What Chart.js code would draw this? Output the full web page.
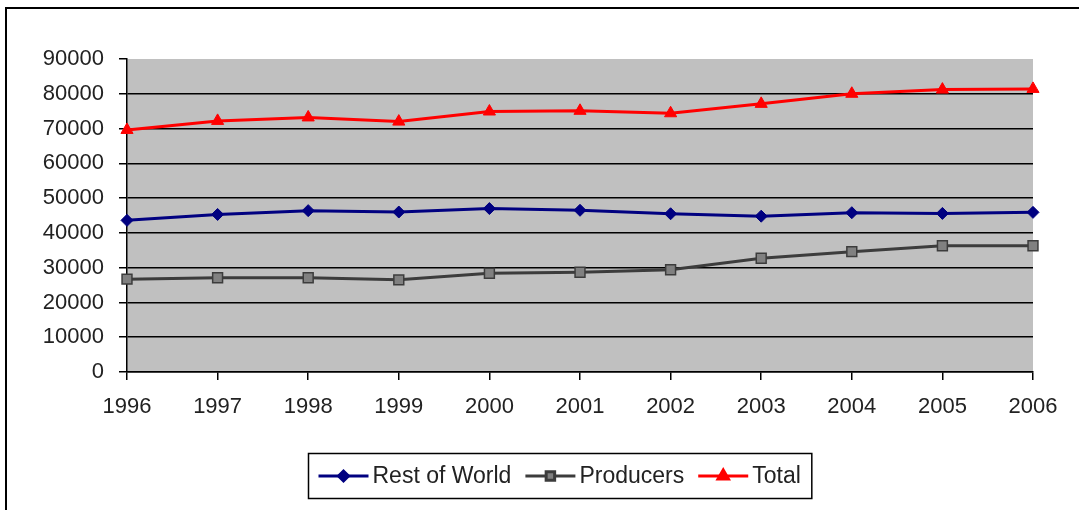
<!DOCTYPE html>
<html>
<head>
<meta charset="utf-8">
<script src="https://cdn.jsdelivr.net/npm/chart.js@4.4.1/dist/chart.umd.min.js"></script>
<style>
html, body { margin: 0; padding: 0; background: #fff; }
#marco { position: absolute; left: 5px; top: 7px; width: 1100px; height: 520px; border-top: 2px solid #000; border-left: 2px solid #000; }
#grafico { position: absolute; left: 0; top: 0; }
</style>
</head>
<body>
<div id="marco"></div>
<canvas id="grafico" width="1079" height="510"></canvas>
<script>
// datos
var anios = ["1996","1997","1998","1999","2000","2001","2002","2003","2004","2005","2006"];
var restoMundo = [43600, 45300, 46400, 46000, 47000, 46500, 45500, 44800, 45800, 45600, 45900];
var productores = [26700, 27100, 27100, 26500, 28400, 28700, 29400, 32700, 34600, 36300, 36300];
var total = [69600, 72200, 73200, 72000, 74900, 75100, 74400, 77100, 80000, 81200, 81400];
var nombres = ["Rest of World", "Producers", "Total"];
var ejeY = {min: 0, max: 90000, paso: 10000};

var FUENTE = '"Liberation Sans", Arial, sans-serif';
var COLOR_TEXTO = "#222";

// fondo gris del area de trazado
var fondo = {
    id: "fondo",
    beforeDraw: function(chart) {
        var a = chart.chartArea;
        var ctx = chart.ctx;
        ctx.save();
        ctx.fillStyle = "#c0c0c0";
        ctx.fillRect(a.left, a.top, a.right - a.left, a.bottom - a.top);
        ctx.restore();
    }
};

// leyenda con recuadro, estilo excel
var leyenda = {
    id: "leyenda",
    afterDraw: function(chart) {
        var ctx = chart.ctx;
        var sets = chart.data.datasets;
        ctx.save();
        ctx.font = "23px " + FUENTE;
        var largo = 50, sep = 4, entre = 14, padIzq = 10, padDer = 11;
        var anchos = [];
        var ancho = padIzq + padDer;
        for (var i = 0; i < sets.length; i++) {
            var w = ctx.measureText(sets[i].label).width;
            anchos.push(w);
            ancho += largo + sep + w + (i > 0 ? entre : 0);
        }
        var alto = 45;
        var x0 = Math.round(560 - ancho / 2) + 0.5;
        var y0 = 453.5;
        ctx.fillStyle = "#fff";
        ctx.fillRect(x0, y0, ancho, alto);
        ctx.strokeStyle = "#000";
        ctx.lineWidth = 1.5;
        ctx.strokeRect(x0, y0, ancho, alto);
        var yc = y0 + alto / 2;
        var x = x0 + padIzq;
        for (var i = 0; i < sets.length; i++) {
            var d = sets[i];
            ctx.strokeStyle = d.borderColor;
            ctx.lineWidth = 3;
            ctx.beginPath();
            ctx.moveTo(x, yc);
            ctx.lineTo(x + largo, yc);
            ctx.stroke();
            ctx.fillStyle = d.pointBackgroundColor;
            ctx.strokeStyle = d.pointBorderColor;
            Chart.helpers.drawPoint(ctx, {
                pointStyle: d.pointStyle,
                radius: d.pointRadius - 1,
                borderWidth: d.pointBorderWidth,
                rotation: 0
            }, x + largo / 2, yc);
            ctx.fillStyle = COLOR_TEXTO;
            ctx.textBaseline = "middle";
            ctx.textAlign = "left";
            ctx.fillText(d.label, x + largo + sep, yc + 1);
            x += largo + sep + anchos[i] + entre;
        }
        ctx.restore();
    }
};

var ctx = document.getElementById("grafico");
new Chart(ctx, {
    type: "line",
    data: {
        labels: anios,
        datasets: [{
            label: nombres[0],
            data: restoMundo,
            borderColor: "#000080",
            borderWidth: 3,
            pointStyle: "rectRot",
            pointRadius: 6,
            pointBackgroundColor: "#000080",
            pointBorderColor: "#000080",
            pointBorderWidth: 1,
            tension: 0
        }, {
            label: nombres[1],
            data: productores,
            borderColor: "#3c3c3c",
            borderWidth: 3,
            pointStyle: "rect",
            pointRadius: 7,
            pointBackgroundColor: "#808080",
            pointBorderColor: "#3c3c3c",
            pointBorderWidth: 1.5,
            tension: 0
        }, {
            label: nombres[2],
            data: total,
            borderColor: "#ff0000",
            borderWidth: 3,
            pointStyle: "triangle",
            pointRadius: 7,
            pointBackgroundColor: "#ff0000",
            pointBorderColor: "#ff0000",
            pointBorderWidth: 1,
            tension: 0
        }]
    },
    options: {
        responsive: false,
        animation: false,
        layout: { padding: { left: 0, right: 46, top: 59, bottom: 0 } },
        plugins: {
            legend: { display: false },
            tooltip: { enabled: false }
        },
        scales: {
            x: {
                offset: false,
                grid: { drawOnChartArea: false, tickLength: 8, color: "#000", tickColor: "#000", lineWidth: 1.5 },
                border: { color: "#000", width: 1.5 },
                ticks: { color: COLOR_TEXTO, font: { family: FUENTE, size: 22 }, padding: 14, maxRotation: 0, autoSkip: false },
                afterFit: function(scale) { scale.height = 138; }
            },
            y: {
                min: ejeY.min,
                max: ejeY.max,
                grid: {
                    tickLength: 8,
                    lineWidth: 1.5,
                    tickColor: "#000",
                    color: function(c) { return (c.tick && c.tick.value === ejeY.max) ? "rgba(0,0,0,0)" : "#000"; }
                },
                border: { color: "#000", width: 1.5 },
                ticks: {
                    stepSize: ejeY.paso,
                    color: COLOR_TEXTO,
                    font: { family: FUENTE, size: 22 },
                    padding: 15,
                    callback: function(v) { return String(v); }
                },
                afterFit: function(scale) { scale.width = 127; }
            }
        }
    },
    plugins: [fondo, leyenda]
});
</script>
</body>
</html>
